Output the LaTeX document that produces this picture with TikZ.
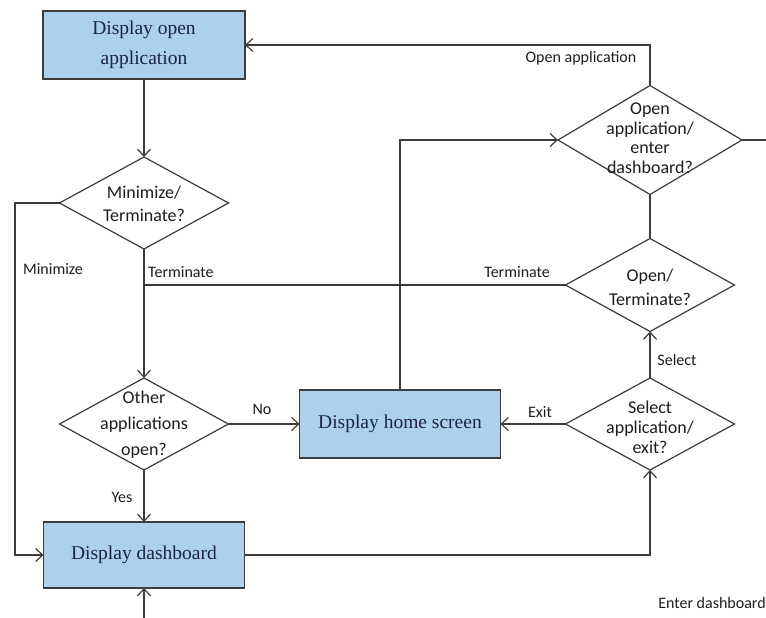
\documentclass[tikz,border=0pt]{standalone}
\usepackage{fontspec}
\setmainfont{Liberation Serif}
\newfontfamily\labfont{Carlito}
\usetikzlibrary{shapes.geometric,arrows.meta}
\definecolor{boxfill}{HTML}{ADD1EC}
\definecolor{linecol}{HTML}{3C3C3C}
\definecolor{boxtext}{HTML}{1C2440}
\definecolor{labtext}{HTML}{1E1E1E}
\begin{document}
\begin{tikzpicture}[x=1pt,y=-1pt,
  >={Straight Barb[length=7pt,width=13pt]},
  conn/.style={draw=linecol,line width=1.2pt},
  procbox/.style={rectangle,draw=linecol,line width=1.2pt,fill=boxfill,outer sep=0pt,
     text=boxtext,font=\fontsize{19.5}{30}\selectfont,align=center},
  decision/.style={diamond,draw=linecol,line width=1.2pt,fill=white,outer sep=0pt,inner sep=0pt},
  dtext/.style={text=labtext,align=center,inner sep=0pt},
  lab/.style={text=labtext,font=\labfont\fontsize{16}{19}\selectfont,inner sep=0pt}
]
\useasboundingbox (0,0) rectangle (766,618);
\fill[white] (0,0) rectangle (766,618);

% process boxes
\node[procbox,minimum width=202pt,minimum height=68pt] (open) at (144,45) {Display open\\application};
\node[procbox,minimum width=201pt,minimum height=68pt] (home) at (400,424) {Display home screen};
\node[procbox,minimum width=201pt,minimum height=66pt] (dash) at (144,555) {Display dashboard};

% decisions
\node[decision,minimum width=169pt,minimum height=92pt] (dmin) at (144,203) {};
\node[dtext,font=\labfont\fontsize{18}{23}\selectfont] at ([yshift=-1pt]dmin) {Minimize/\\Terminate?};
\node[decision,minimum width=169pt,minimum height=92pt] (doth) at (144,424) {};
\node[dtext,font=\labfont\fontsize{18}{26}\selectfont] at ([yshift=-1pt]doth) {Other\\applications\\open?};
\node[decision,minimum width=169pt,minimum height=92pt] (dsel) at (650,424) {};
\node[dtext,font=\labfont\fontsize{18}{20}\selectfont] at ([yshift=-3pt]dsel) {Select\\application/\\exit?};
\node[decision,minimum width=169pt,minimum height=93pt] (dopt) at (650,285) {};
\node[dtext,font=\labfont\fontsize{18}{24}\selectfont] at ([yshift=-2pt]dopt) {Open/\\Terminate?};
\node[decision,minimum width=184pt,minimum height=109pt] (dapp) at (650,140) {};
\node[dtext,font=\labfont\fontsize{18}{19.5}\selectfont] at ([yshift=2pt]dapp) {Open\\application/\\enter\\dashboard?};

\coordinate (mleft) at (15,203);
\coordinate (rightout) at (766,140);
\coordinate (bottomin) at (144,618);

% connectors
\draw[conn,->] (open.south) -- (dmin.north);
\draw[conn,->] (dmin.west) -- (mleft) |- (dash.west);
\draw[conn,->] (dmin.south) -- (doth.north);
\draw[conn] (dopt.west) -- (dmin.south |- dopt.west);
\draw[conn,->] (doth.east) -- (home.west);
\draw[conn,->] (doth.south) -- (dash.north);
\draw[conn,->] (dash.east) -| (dsel.south);
\draw[conn,->] (dsel.west) -- (home.east);
\draw[conn,->] (dsel.north) -- (dopt.south);
\draw[conn] (dopt.north) -- (dapp.south);
\draw[conn,->] (dapp.north) |- (open.east);
\draw[conn,->] (home.north) |- (dapp.west);
\draw[conn] (dapp.east) -- (rightout);
\draw[conn,->] (bottomin) -- (dash.south);

% labels
\node[lab] at (53,269) {Minimize};
\node[lab,anchor=west] at (148,272) {Terminate};
\node[lab,anchor=east] at (550,272) {Terminate};
\node[lab] at (262,409) {No};
\node[lab] at (122,497) {Yes};
\node[lab] at (540,412) {Exit};
\node[lab] at (677,360) {Select};
\node[lab] at (581,58) {Open application};
\node[lab] at (712,603) {Enter dashboard};
\end{tikzpicture}
\end{document}
